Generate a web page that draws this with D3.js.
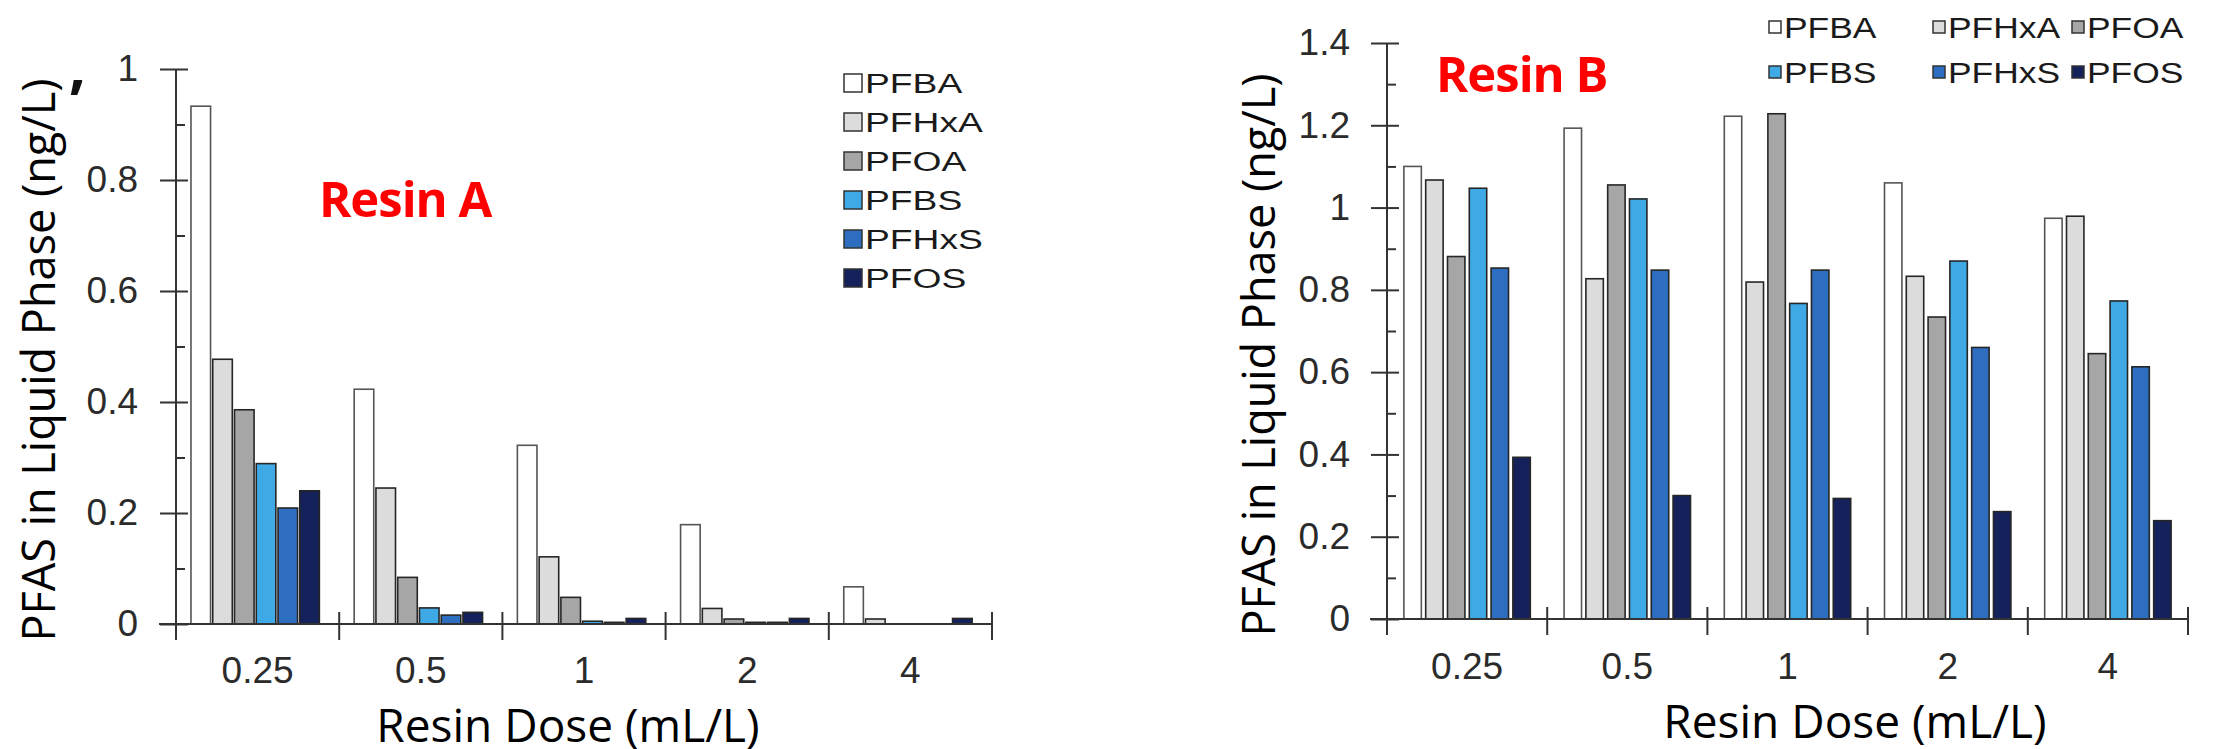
<!DOCTYPE html>
<html>
<head>
<meta charset="utf-8">
<script src="https://cdn.jsdelivr.net/npm/d3@7"></script>
<style>
  body { margin: 0; background: #fff; }
  svg { display: block; }
</style>
</head>
<body>
<svg id="chart" width="2237" height="749"></svg>
<script>
// categories
var doses = ["0.25", "0.5", "1", "2", "4"];
var compounds = ["PFBA", "PFHxA", "PFOA", "PFBS", "PFHxS", "PFOS"];
var fills = ["#ffffff", "#dcdcdc", "#a6a6a6", "#3ea9e5", "#2e6ec0", "#15215b"];

// tick values
var yTicksA = [0, 0.2, 0.4, 0.6, 0.8, 1];
var yMinorA = [0.1, 0.3, 0.5, 0.7, 0.9];
var yTicksB = [0, 0.2, 0.4, 0.6, 0.8, 1, 1.2, 1.4];
var yMinorB = [0.1, 0.3, 0.5, 0.7, 0.9, 1.1, 1.3];

// Resin A, one value per dose
var resinA_PFBA  = [0.933, 0.423, 0.322, 0.179, 0.067];
var resinA_PFHxA = [0.477, 0.245, 0.121, 0.028, 0.009];
var resinA_PFOA  = [0.386, 0.084, 0.048, 0.009, 0];
var resinA_PFBS  = [0.289, 0.029, 0.005, 0.003, 0];
var resinA_PFHxS = [0.209, 0.016, 0.003, 0.003, 0];
var resinA_PFOS  = [0.240, 0.021, 0.010, 0.010, 0.010];

// Resin B, one value per dose
var resinB_PFBA  = [1.100, 1.193, 1.222, 1.060, 0.974];
var resinB_PFHxA = [1.067, 0.827, 0.819, 0.833, 0.979];
var resinB_PFOA  = [0.881, 1.055, 1.228, 0.734, 0.645];
var resinB_PFBS  = [1.047, 1.021, 0.767, 0.870, 0.773];
var resinB_PFHxS = [0.853, 0.848, 0.848, 0.660, 0.613];
var resinB_PFOS  = [0.393, 0.300, 0.293, 0.261, 0.239];

var svg = d3.select("#chart");
var axisColor = "#333";

function drawChart(o) {
    var g = svg.append("g");

    var x0 = d3.scaleBand().domain(doses).range([o.left, o.right]);
    var x1 = d3.scaleBand().domain(compounds).range([0, x0.bandwidth()])
        .paddingInner(o.pi).paddingOuter(o.po).align(o.align);
    var y = d3.scaleLinear().domain([0, o.ymax]).range([o.bottom, o.top]);

    // bars, grouped by dose
    var groups = g.selectAll("g.dose")
      .data(doses)
      .enter().append("g")
        .attr("class", "dose")
        .attr("transform", function (d) { return "translate(" + x0(d) + ",0)"; });

    groups.selectAll("rect")
        .data(function (d, i) {
            return compounds.map(function (c, j) { return { c: c, j: j, v: o.values[j][i] }; })
                .filter(function (b) { return b.v > 0; });
        })
      .enter().append("rect")
        .attr("x", function (d) { return x1(d.c); })
        .attr("y", function (d) { return y(d.v); })
        .attr("width", x1.bandwidth())
        .attr("height", function (d) { return y(0) - y(d.v); })
        .attr("fill", function (d) { return fills[d.j]; })
        .attr("stroke", function (d) { return d.j === 0 ? "#555" : "#262626"; })
        .attr("stroke-width", 1.6);

    // y axis: major ticks cross the line, minor ticks on the inside
    var yAxis = g.append("g")
        .attr("transform", "translate(" + o.left + ",0)")
        .call(d3.axisLeft(y).tickValues(o.ticks).tickSize(16).tickPadding(o.tickPad)
            .tickFormat(d3.format("~g")));
    yAxis.select(".domain").remove();
    yAxis.selectAll(".tick line").attr("x1", 12).attr("stroke", axisColor).attr("stroke-width", 2);
    yAxis.selectAll(".tick text")
        .attr("font-family", "'Liberation Sans', Arial, sans-serif")
        .attr("font-size", 37)
        .attr("fill", "#2b2b2b");

    var yMinor = g.append("g")
        .attr("transform", "translate(" + o.left + ",0)")
        .call(d3.axisRight(y).tickValues(o.minor).tickSize(9).tickFormat(""));
    yMinor.select(".domain").remove();
    yMinor.selectAll(".tick line").attr("stroke", axisColor).attr("stroke-width", 2);

    g.append("line")
        .attr("x1", o.left).attr("x2", o.left)
        .attr("y1", y(o.ymax)).attr("y2", y(0) + 16)
        .attr("stroke", axisColor).attr("stroke-width", 2);

    // x axis
    g.append("line")
        .attr("x1", o.left - 17).attr("x2", o.right)
        .attr("y1", y(0)).attr("y2", y(0))
        .attr("stroke", axisColor).attr("stroke-width", 2);

    var bounds = doses.map(function (d) { return x0(d); }).concat([x0.range()[1]]);
    g.selectAll("line.gtick")
        .data(bounds)
      .enter().append("line")
        .attr("class", "gtick")
        .attr("x1", function (d) { return d; }).attr("x2", function (d) { return d; })
        .attr("y1", y(0) - 12).attr("y2", y(0) + 16)
        .attr("stroke", axisColor).attr("stroke-width", 2);

    var xAxis = g.append("g")
        .attr("transform", "translate(0," + y(0) + ")")
        .call(d3.axisBottom(x0).tickSize(0).tickPadding(o.xPad));
    xAxis.select(".domain").remove();
    xAxis.selectAll(".tick text")
        .attr("font-family", "'Liberation Sans', Arial, sans-serif")
        .attr("font-size", 37)
        .attr("fill", "#2b2b2b");

    // titles
    g.append("text")
        .attr("transform", "translate(" + o.yTitleX + "," + o.yTitleY + ") rotate(-90)")
        .attr("text-anchor", "middle")
        .attr("font-family", "'Open Sans', 'Noto Sans', sans-serif")
        .attr("font-size", 45)
        .attr("fill", "#000")
        .text("PFAS in Liquid Phase (ng/L)");

    g.append("text")
        .attr("x", o.xTitleX).attr("y", o.xTitleY)
        .attr("text-anchor", "middle")
        .attr("font-family", "'Open Sans', 'Noto Sans', sans-serif")
        .attr("font-size", 46)
        .attr("fill", "#000")
        .text("Resin Dose (mL/L)");

    g.append("text")
        .attr("x", o.nameX).attr("y", o.nameY)
        .attr("font-family", "'Open Sans', 'Noto Sans', sans-serif")
        .attr("font-weight", "bold")
        .attr("font-size", 49)
        .attr("letter-spacing", -1)
        .attr("fill", "#ff0000")
        .text(o.name);

    // legend
    var leg = g.selectAll("g.leg")
        .data(compounds)
      .enter().append("g")
        .attr("class", "leg")
        .attr("transform", function (d, i) { return "translate(" + o.legX(i) + "," + o.legY(i) + ")"; });
    leg.append("rect")
        .attr("x", 0).attr("y", -o.sw / 2)
        .attr("width", o.sw).attr("height", o.sw)
        .attr("fill", function (d, i) { return fills[i]; })
        .attr("stroke", "#333").attr("stroke-width", 1.5);
    leg.append("text")
        .attr("transform", "translate(" + (o.sw + 3) + "," + (o.legFont * 0.36) + ") scale(" + o.legStretch + ",1)")
        .attr("font-family", "'Liberation Sans', Arial, sans-serif")
        .attr("font-size", o.legFont)
        .attr("fill", "#1a1a1a")
        .text(function (d) { return d; });

    return g;
}

drawChart({
    values: [resinA_PFBA, resinA_PFHxA, resinA_PFOA, resinA_PFBS, resinA_PFHxS, resinA_PFOS],
    left: 176, right: 992, top: 69, bottom: 624, ymax: 1,
    ticks: yTicksA, minor: yMinorA, tickPad: 22, xPad: 33,
    pi: 0.1, po: 0.8, align: 0.43,
    yTitleX: 55, yTitleY: 360,
    xTitleX: 568, xTitleY: 742,
    name: "Resin A", nameX: 319, nameY: 217,
    sw: 18, legFont: 28, legStretch: 1.33,
    legX: function (i) { return 844; },
    legY: function (i) { return 83 + i * 39; }
});

drawChart({
    values: [resinB_PFBA, resinB_PFHxA, resinB_PFOA, resinB_PFBS, resinB_PFHxS, resinB_PFOS],
    left: 1387, right: 2188, top: 43, bottom: 619, ymax: 1.4,
    ticks: yTicksB, minor: yMinorB, tickPad: 21, xPad: 34,
    pi: 0.2, po: 0.775, align: 0.5,
    yTitleX: 1275, yTitleY: 355,
    xTitleX: 1855, xTitleY: 738,
    name: "Resin B", nameX: 1436, nameY: 92,
    sw: 12, legFont: 30, legStretch: 1.18,
    legX: function (i) { return [1769, 1933, 2072][i % 3]; },
    legY: function (i) { return [27, 72][Math.floor(i / 3)]; }
});

// stray mark left of the Resin A axis
svg.append("text")
    .attr("x", 70).attr("y", 124)
    .attr("font-family", "'Open Sans', sans-serif")
    .attr("font-weight", "bold")
    .attr("font-size", 60)
    .attr("fill", "#111")
    .text("\u2019");
</script>
</body>
</html>
